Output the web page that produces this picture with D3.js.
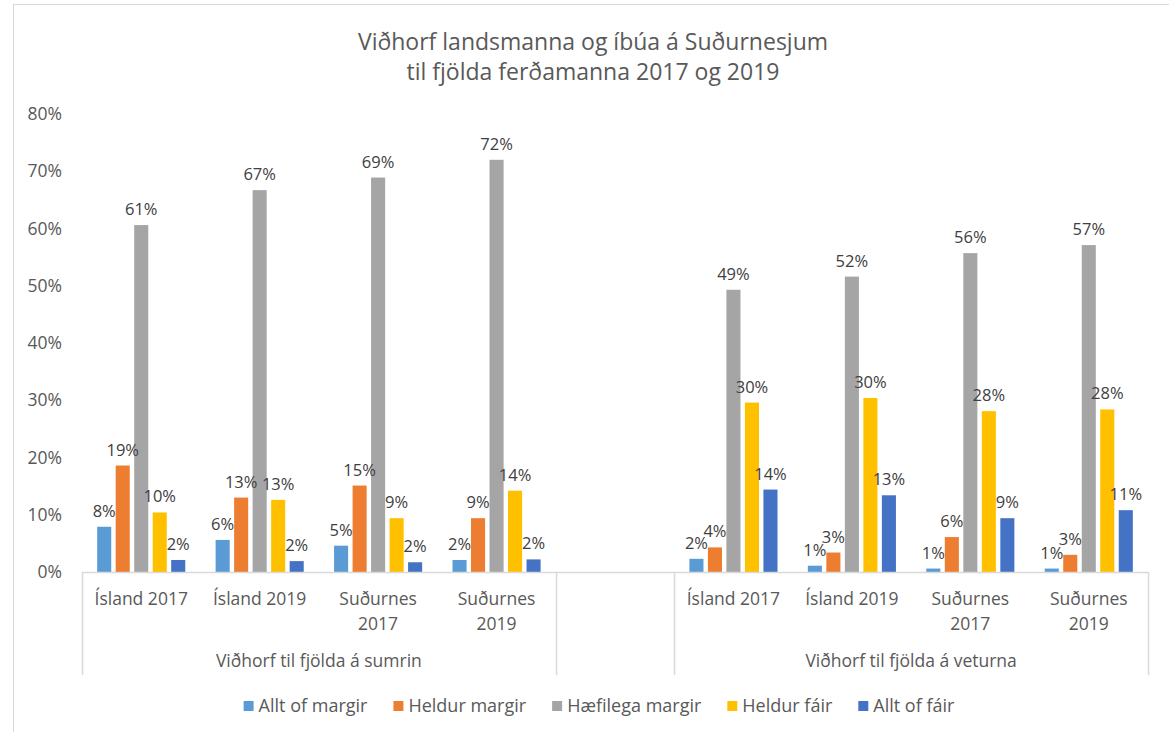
<!DOCTYPE html>
<html>
<head>
<meta charset="utf-8">
<script src="https://cdn.jsdelivr.net/npm/d3@7"></script>
<style>
  body { margin: 0; background: #fff; }
  svg { font-family: "Open Sans", "Noto Sans", sans-serif; }
</style>
</head>
<body>
<div id="chart"></div>
<script>
// Chart data
const titleLines = ['Viðhorf landsmanna og íbúa á Suðurnesjum', 'til fjölda ferðamanna 2017 og 2019'];
const series = ['Allt of margir', 'Heldur margir', 'Hæfilega margir', 'Heldur fáir', 'Allt of fáir'];
const colors = ['#5B9BD5', '#ED7D31', '#A5A5A5', '#FFC000', '#4472C4'];
// slot keys: 4 summer, 1 empty, 4 winter
const slots = ['s1', 's2', 's3', 's4', 'gap', 'w1', 'w2', 'w3', 'w4'];
const slotLabels = [['Ísland 2017'], ['Ísland 2019'], ['Suðurnes', '2017'], ['Suðurnes', '2019'], [],
                    ['Ísland 2017'], ['Ísland 2019'], ['Suðurnes', '2017'], ['Suðurnes', '2019']];
const groups = [
  { label: 'Viðhorf til fjölda á sumrin', from: 's1', to: 's4' },
  { label: 'Viðhorf til fjölda á veturna', from: 'w1', to: 'w4' }
];
// values per slot, in series order
const values = {
  s1: [0.079, 0.186, 0.606, 0.104, 0.021],
  s2: [0.056, 0.130, 0.667, 0.126, 0.019],
  s3: [0.046, 0.151, 0.689, 0.094, 0.017],
  s4: [0.021, 0.094, 0.720, 0.142, 0.022],
  w1: [0.023, 0.043, 0.493, 0.296, 0.144],
  w2: [0.011, 0.034, 0.516, 0.304, 0.134],
  w3: [0.006, 0.061, 0.557, 0.281, 0.094],
  w4: [0.006, 0.030, 0.571, 0.284, 0.108]
};
const yTicks = [0, 0.1, 0.2, 0.3, 0.4, 0.5, 0.6, 0.7, 0.8];

const width = 1169, height = 732;
const plot = { left: 82, right: 1148, top: 114, bottom: 572 };
const fs = '17.5px';

const svg = d3.select('#chart').append('svg')
  .attr('width', width)
  .attr('height', height);

// outer chart border
svg.append('rect')
  .attr('x', 13.5).attr('y', 4.5)
  .attr('width', width).attr('height', height)
  .attr('fill', 'none')
  .attr('stroke', '#d9d9d9');

// Title
svg.append('text')
  .attr('text-anchor', 'middle')
  .attr('font-size', '23px')
  .attr('fill', '#595959')
  .selectAll('tspan')
  .data(titleLines)
  .join('tspan')
  .attr('x', 593)
  .attr('y', (d, i) => 50 + i * 30)
  .text(d => d);

const x0 = d3.scaleBand().domain(slots).range([plot.left, plot.right]).padding(0);
const x1 = d3.scaleBand().domain(series).range([0, x0.bandwidth()])
  .paddingInner(0.24).paddingOuter(0.82);
const y = d3.scaleLinear().domain([0, 0.8]).range([plot.bottom, plot.top]);
const pct = d3.format('.0%');

// Y axis labels
const yAxis = svg.append('g')
  .attr('transform', `translate(${plot.left},0)`)
  .call(d3.axisLeft(y).tickValues(yTicks).tickFormat(pct).tickSize(0).tickPadding(20));
yAxis.select('.domain').remove();
yAxis.selectAll('text')
  .attr('font-family', '"Open Sans", sans-serif')
  .attr('font-size', fs)
  .attr('fill', '#595959');

// Bars
const slotG = svg.append('g').selectAll('g')
  .data(slots.filter(s => values[s]))
  .join('g')
  .attr('transform', d => `translate(${x0(d)},0)`);

slotG.selectAll('rect')
  .data(d => values[d].map((v, i) => ({ key: series[i], v, c: colors[i] })))
  .join('rect')
  .attr('x', d => x1(d.key))
  .attr('y', d => y(d.v))
  .attr('width', x1.bandwidth())
  .attr('height', d => y(0) - y(d.v))
  .attr('fill', d => d.c);

slotG.selectAll('text')
  .data(d => values[d].map((v, i) => ({ key: series[i], v })))
  .join('text')
  .attr('x', d => x1(d.key) + x1.bandwidth() / 2)
  .attr('y', d => y(d.v) - 10)
  .attr('text-anchor', 'middle')
  .attr('font-size', '16.5px')
  .attr('fill', '#404040')
  .text(d => pct(d.v));

// Category axis line and separators
svg.append('line')
  .attr('x1', plot.left).attr('x2', plot.right)
  .attr('y1', plot.bottom + 0.5).attr('y2', plot.bottom + 0.5)
  .attr('stroke', '#d9d9d9').attr('stroke-width', 1.5);

const sepX = [x0('s1'), x0('gap'), x0('w1'), x0('w4') + x0.bandwidth()];
svg.append('g').selectAll('line')
  .data(sepX)
  .join('line')
  .attr('x1', d => Math.round(d) + 0.5).attr('x2', d => Math.round(d) + 0.5)
  .attr('y1', plot.bottom).attr('y2', 675)
  .attr('stroke', '#d9d9d9').attr('stroke-width', 1.5);

// Category labels
svg.append('g').selectAll('text')
  .data(slots.map((s, i) => ({ s, lines: slotLabels[i] })))
  .join('text')
  .attr('text-anchor', 'middle')
  .attr('font-size', fs)
  .attr('fill', '#595959')
  .each(function(d) {
    d3.select(this).selectAll('tspan')
      .data(d.lines)
      .join('tspan')
      .attr('x', x0(d.s) + x0.bandwidth() / 2)
      .attr('y', (t, i) => 605 + i * 25)
      .text(t => t);
  });

// Group labels
svg.append('g').selectAll('text')
  .data(groups)
  .join('text')
  .attr('x', d => (x0(d.from) + x0(d.to) + x0.bandwidth()) / 2)
  .attr('y', 667)
  .attr('text-anchor', 'middle')
  .attr('font-size', fs)
  .attr('fill', '#595959')
  .text(d => d.label);

// Legend
const legend = svg.append('g');
const items = legend.selectAll('g')
  .data(series)
  .join('g');
items.append('rect')
  .attr('width', 10).attr('height', 10)
  .attr('y', 701)
  .attr('fill', (d, i) => colors[i]);
items.append('text')
  .attr('x', 15)
  .attr('y', 712)
  .attr('font-size', '18px')
  .attr('fill', '#595959')
  .text(d => d);

const widths = [];
items.each(function() {
  widths.push(d3.select(this).select('text').node().getComputedTextLength() + 15);
});
const total = d3.sum(widths) + 26 * (widths.length - 1);
let offset = 599 - total / 2;
items.attr('transform', (d, i) => {
  const t = `translate(${offset},0)`;
  offset += widths[i] + 26;
  return t;
});
</script>
</body>
</html>
